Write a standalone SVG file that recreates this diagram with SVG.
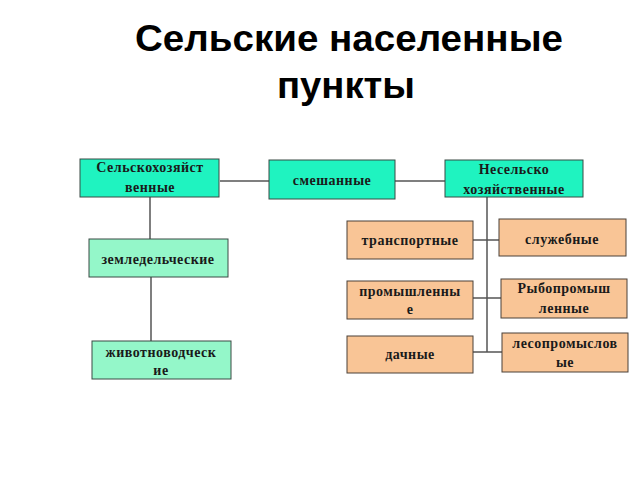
<svg xmlns="http://www.w3.org/2000/svg" width="640" height="480" viewBox="0 0 640 480">
<style>
.title{font-family:"Liberation Sans",Arial,sans-serif;font-weight:bold;font-size:36px;fill:#000;text-anchor:middle}
.t{font-family:"Liberation Serif","Times New Roman",serif;font-weight:bold;font-size:14px;fill:#1a1a1a;text-anchor:middle;letter-spacing:0.5px}
.g1{fill:#1ff3c0;stroke:#3a4a44;stroke-width:1}
.g2{fill:#94f7c9;stroke:#3a4a44;stroke-width:1}
.o{fill:#f9c596;stroke:#4a4038;stroke-width:1}
.c line{stroke:#555;stroke-width:1.5}
</style>
<rect width="640" height="480" fill="#fff"/>
<text class="title" x="349" y="51" textLength="428" lengthAdjust="spacingAndGlyphs">Сельские населенные</text>
<text class="title" x="346" y="98" textLength="138" lengthAdjust="spacingAndGlyphs">пункты</text>
<g class="c" id="connectors">
<line x1="220" y1="181" x2="269" y2="181"/>
<line x1="395" y1="181" x2="445" y2="181"/>
<line x1="150" y1="197" x2="150" y2="239"/>
<line x1="151" y1="277" x2="151" y2="341"/>
<line x1="487" y1="197" x2="487" y2="352"/>
<line x1="473" y1="240" x2="499" y2="240"/>
<line x1="473" y1="298" x2="501" y2="298"/>
<line x1="473" y1="352" x2="502" y2="352"/>
</g>
<g id="n1"><rect class="g1" x="80" y="159" width="139" height="38"/><text class="t" x="150" y="172">Сельскохозяйст</text><text class="t" x="150" y="192">венные</text></g>
<g id="n2"><rect class="g1" x="269" y="160" width="126" height="39"/><text class="t" x="332" y="185">смешанные</text></g>
<g id="n3"><rect class="g1" x="445" y="160" width="138" height="37"/><text class="t" x="514" y="174">Несельско</text><text class="t" x="514" y="194">хозяйственные</text></g>
<g id="n4"><rect class="g2" x="89" y="239" width="139" height="38"/><text class="t" x="158" y="264">земледельческие</text></g>
<g id="n5"><rect class="g2" x="92" y="341" width="139" height="38"/><text class="t" x="161" y="357">животноводческ</text><text class="t" x="161" y="375">ие</text></g>
<g id="n6"><rect class="o" x="347" y="221" width="126" height="38"/><text class="t" x="410" y="245">транспортные</text></g>
<g id="n7"><rect class="o" x="499" y="219" width="127" height="37"/><text class="t" x="562" y="244">служебные</text></g>
<g id="n8"><rect class="o" x="347" y="281" width="126" height="38"/><text class="t" x="410" y="296">промышленны</text><text class="t" x="410" y="314">е</text></g>
<g id="n9"><rect class="o" x="501" y="279" width="126" height="39"/><text class="t" x="564" y="293">Рыбопромыш</text><text class="t" x="564" y="313">ленные</text></g>
<g id="n10"><rect class="o" x="347" y="336" width="126" height="37"/><text class="t" x="410" y="359">дачные</text></g>
<g id="n11"><rect class="o" x="502" y="333" width="126" height="39"/><text class="t" x="565" y="348">лесопромыслов</text><text class="t" x="565" y="367">ые</text></g>
</svg>
